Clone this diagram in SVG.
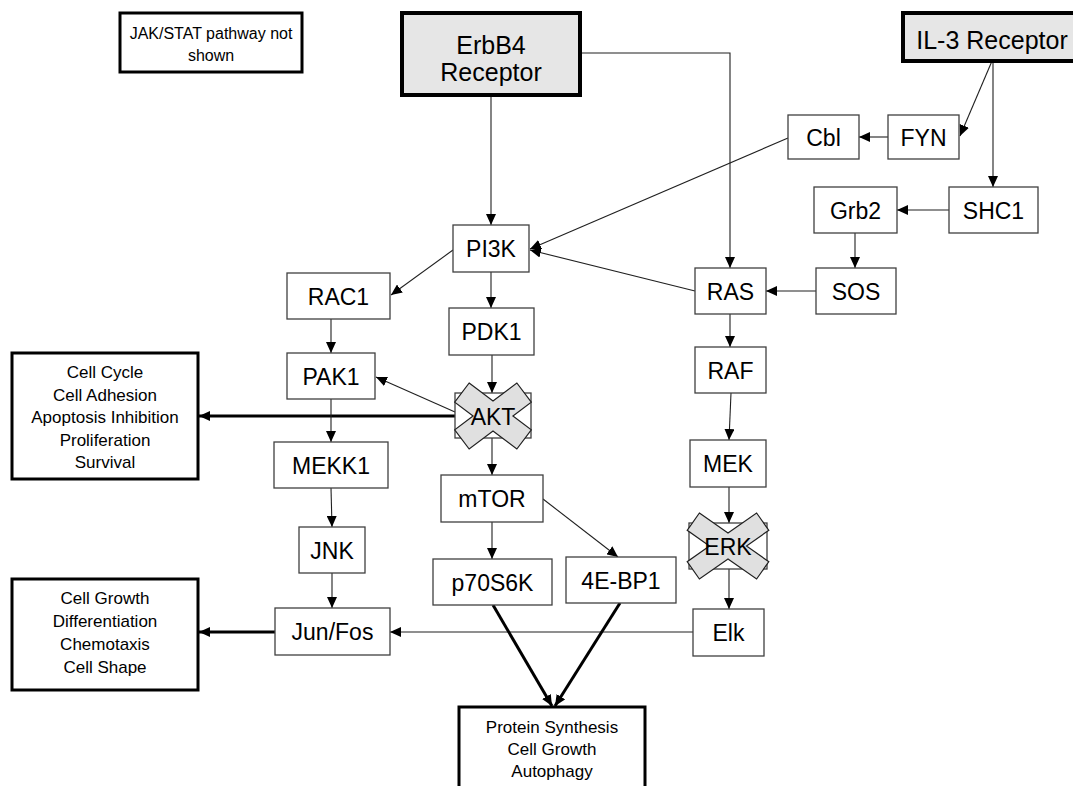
<svg xmlns="http://www.w3.org/2000/svg" width="1073" height="786" viewBox="0 0 1073 786">
<style>
  .n { fill: #ffffff; stroke: #404040; stroke-width: 1.3; }
  .rec { fill: #e6e6e6; stroke: #000000; stroke-width: 4; }
  .out { fill: #ffffff; stroke: #000000; stroke-width: 3; }
  .x { fill: #e0e0e0; stroke: #202020; stroke-width: 1.2; stroke-linejoin: miter; }
  .t { font-family: "Liberation Sans", Arial, sans-serif; font-size: 23px; fill: #000; text-anchor: middle; }
  .tr { font-family: "Liberation Sans", Arial, sans-serif; font-size: 25px; fill: #000; text-anchor: middle; }
  .ts { font-family: "Liberation Sans", Arial, sans-serif; font-size: 17px; fill: #000; text-anchor: middle; }
  .tj { font-family: "Liberation Sans", Arial, sans-serif; font-size: 16px; fill: #000; text-anchor: middle; }
  .c { fill: none; stroke: #202020; stroke-width: 1.1; marker-end: url(#a); }
  .ck { fill: none; stroke: #000000; stroke-width: 3; marker-end: url(#ak); }
</style>
<defs>
  <marker id="a" markerUnits="userSpaceOnUse" markerWidth="12" markerHeight="10" refX="11" refY="5" orient="auto">
    <path d="M0,0 L11,5 L0,10 Z" fill="#000"/>
  </marker>
  <marker id="ak" markerUnits="userSpaceOnUse" markerWidth="12" markerHeight="10" refX="11" refY="5" orient="auto">
    <path d="M0,0 L11,5 L0,10 Z" fill="#000"/>
  </marker>
</defs>
<rect width="1073" height="786" fill="#ffffff"/>

<g id="connectors">
  <line class="c" x1="491" y1="95" x2="491" y2="225"/>
  <path class="c" d="M580,53 H730 V268"/>
  <line class="c" x1="992" y1="61" x2="960" y2="136"/>
  <line class="c" x1="993" y1="61" x2="993" y2="187"/>
  <line class="c" x1="888" y1="137" x2="859" y2="137"/>
  <line class="c" x1="788" y1="138" x2="530" y2="249"/>
  <line class="c" x1="949" y1="210" x2="897" y2="210"/>
  <line class="c" x1="855" y1="233" x2="855" y2="268"/>
  <line class="c" x1="816" y1="291" x2="766" y2="291"/>
  <line class="c" x1="695" y1="291" x2="530" y2="250"/>
  <line class="c" x1="730" y1="314" x2="730" y2="347"/>
  <line class="c" x1="453" y1="250" x2="391" y2="295"/>
  <line class="c" x1="491" y1="272" x2="491" y2="308"/>
  <line class="c" x1="331" y1="319" x2="331" y2="353"/>
  <line class="c" x1="492" y1="355" x2="492" y2="393"/>
  <line class="c" x1="455" y1="412" x2="376" y2="377"/>
  <line class="ck" x1="455" y1="416" x2="199" y2="416"/>
  <line class="c" x1="331" y1="399" x2="331" y2="442"/>
  <line class="c" x1="492" y1="438" x2="492" y2="475"/>
  <line class="c" x1="543" y1="499" x2="618" y2="557"/>
  <line class="c" x1="492" y1="522" x2="492" y2="559"/>
  <line class="c" x1="331" y1="488" x2="332" y2="527"/>
  <line class="c" x1="332" y1="573" x2="332" y2="608"/>
  <line class="c" x1="731" y1="393" x2="729" y2="440"/>
  <line class="c" x1="729" y1="487" x2="729" y2="523"/>
  <line class="c" x1="729" y1="569" x2="729" y2="609"/>
  <line class="c" x1="693" y1="632" x2="390" y2="632"/>
  <line class="ck" x1="275" y1="632" x2="199" y2="632"/>
  <line class="ck" x1="493" y1="605" x2="552" y2="706"/>
  <line class="ck" x1="620" y1="603" x2="555" y2="706"/>
</g>

<g id="jakstat">
  <rect class="out" x="120" y="13" width="182" height="59"/>
  <text class="tj" x="211" y="38.5">JAK/STAT pathway not</text>
  <text class="tj" x="211" y="60.5">shown</text>
</g>
<g id="erbb4">
  <rect class="rec" x="402" y="13" width="178" height="82"/>
  <text class="tr" x="491" y="54">ErbB4</text>
  <text class="tr" x="491" y="81">Receptor</text>
</g>
<g id="il3">
  <rect class="rec" x="903" y="13" width="175" height="48"/>
  <text class="tr" x="992" y="49" font-size="24">IL-3 Receptor</text>
</g>
<g id="cbl"><rect class="n" x="788" y="115" width="71" height="44"/><text class="t" x="823.5" y="145.5">Cbl</text></g>
<g id="fyn"><rect class="n" x="888" y="115" width="71" height="44"/><text class="t" x="923.5" y="145.5">FYN</text></g>
<g id="shc1"><rect class="n" x="949" y="187" width="89" height="46"/><text class="t" x="993.5" y="218.5">SHC1</text></g>
<g id="grb2"><rect class="n" x="814" y="187" width="83" height="46"/><text class="t" x="855.5" y="218.5">Grb2</text></g>
<g id="sos"><rect class="n" x="816" y="268" width="80" height="46"/><text class="t" x="856" y="299.5">SOS</text></g>
<g id="ras"><rect class="n" x="695" y="268" width="71" height="46"/><text class="t" x="730.5" y="299.5">RAS</text></g>
<g id="raf"><rect class="n" x="695" y="347" width="71" height="46"/><text class="t" x="730.5" y="378.5">RAF</text></g>
<g id="mek"><rect class="n" x="690" y="440" width="76" height="47"/><text class="t" x="728" y="472">MEK</text></g>
<g id="erk">
  <rect class="n" x="689" y="523" width="78" height="46" stroke="#000"/>
  <polygon class="x" points="699.4,513 728,533.1 756.6,513 768.8,530.3 746.5,546 768.8,561.7 756.6,579 728,558.9 699.4,579 687.2,561.7 709.5,546 687.2,530.3"/>
  <text class="t" x="728" y="554.5">ERK</text>
</g>
<g id="elk"><rect class="n" x="693" y="609" width="71" height="47"/><text class="t" x="728.5" y="641">Elk</text></g>
<g id="pi3k"><rect class="n" x="453" y="225" width="76" height="47"/><text class="t" x="491" y="257">PI3K</text></g>
<g id="rac1"><rect class="n" x="287" y="273" width="103" height="46"/><text class="t" x="338.5" y="304.5">RAC1</text></g>
<g id="pdk1"><rect class="n" x="449" y="308" width="85" height="47"/><text class="t" x="491.5" y="340">PDK1</text></g>
<g id="pak1"><rect class="n" x="287" y="353" width="88" height="46"/><text class="t" x="331" y="384.5">PAK1</text></g>
<g id="akt">
  <rect class="n" x="455" y="393" width="76" height="45" stroke="#606060"/>
  <polygon class="x" points="469.15,383 493,400.97 516.85,383 531.29,402.17 512.94,416 531.29,429.83 516.85,449 493,431.03 469.15,449 454.71,429.83 473.06,416 454.71,402.17"/>
  <text class="t" x="493" y="424.5">AKT</text>
</g>
<g id="mekk1"><rect class="n" x="274" y="442" width="114" height="46"/><text class="t" x="331" y="473.5">MEKK1</text></g>
<g id="jnk"><rect class="n" x="299" y="527" width="66" height="46"/><text class="t" x="332" y="558.5">JNK</text></g>
<g id="junfos"><rect class="n" x="275" y="608" width="115" height="47"/><text class="t" x="332.5" y="640">Jun/Fos</text></g>
<g id="mtor"><rect class="n" x="441" y="475" width="102" height="47"/><text class="t" x="492" y="507">mTOR</text></g>
<g id="p70s6k"><rect class="n" x="433" y="559" width="119" height="46"/><text class="t" x="492.5" y="590.5">p70S6K</text></g>
<g id="4ebp1"><rect class="n" x="566" y="557" width="110" height="46"/><text class="t" x="621" y="588.5">4E-BP1</text></g>

<g id="cellcycle">
  <rect class="out" x="12" y="353" width="186" height="126"/>
  <text class="ts" x="105" y="378">Cell Cycle</text>
  <text class="ts" x="105" y="400.5">Cell Adhesion</text>
  <text class="ts" x="105" y="423">Apoptosis Inhibition</text>
  <text class="ts" x="105" y="445.5">Proliferation</text>
  <text class="ts" x="105" y="468">Survival</text>
</g>
<g id="cellgrowth">
  <rect class="out" x="12" y="579" width="186" height="111"/>
  <text class="ts" x="105" y="604">Cell Growth</text>
  <text class="ts" x="105" y="627">Differentiation</text>
  <text class="ts" x="105" y="650">Chemotaxis</text>
  <text class="ts" x="105" y="673">Cell Shape</text>
</g>
<g id="protein">
  <rect class="out" x="459" y="707" width="186" height="100"/>
  <text class="ts" x="552" y="733">Protein Synthesis</text>
  <text class="ts" x="552" y="755">Cell Growth</text>
  <text class="ts" x="552" y="777">Autophagy</text>
</g>
</svg>
